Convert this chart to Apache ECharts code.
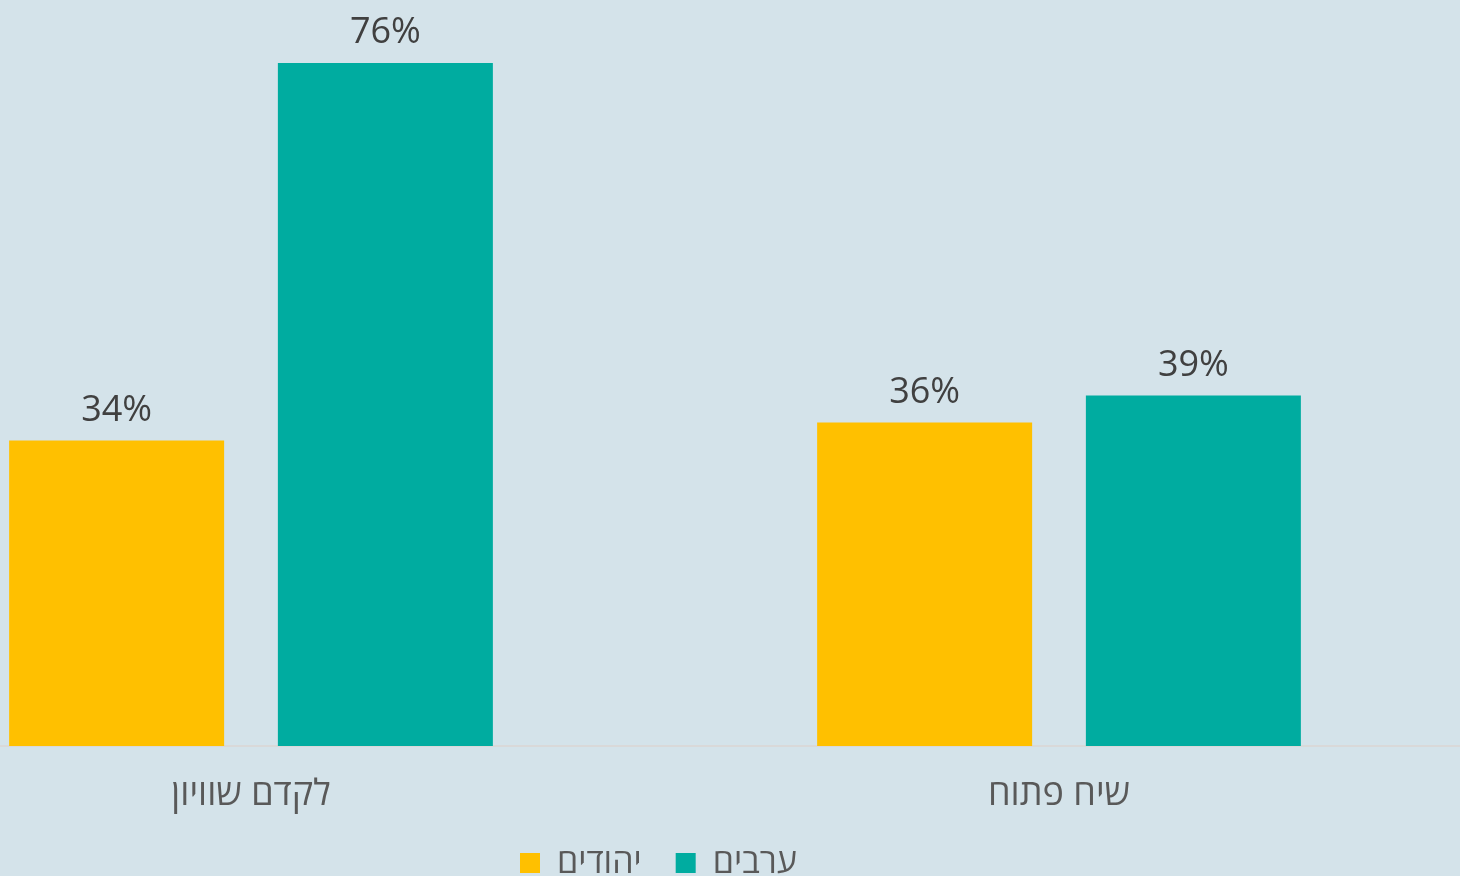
<!DOCTYPE html>
<html>
<head>
<meta charset="utf-8">
<title>chart</title>
<script src="https://cdn.jsdelivr.net/npm/echarts@6/dist/echarts.min.js"></script>
<style>
  html, body { margin: 0; padding: 0; background: #d4e3ea; overflow: hidden; }
  /* the plot is wider than the window: the outer categories are cut at both edges */
  #chart { position: absolute; left: -153px; top: 0; width: 1616px; height: 876px; }
</style>
</head>
<body>
<div id="chart"></div>
<script>
const categories = ['לקדם שוויון', 'שיח פתוח']
const seriesNames = ['יהודים', 'ערבים']
const jewsValues = [34, 36]
const arabsValues = [76, 39]

const font = '"Open Sans", "DejaVu Sans", sans-serif'

const chart = echarts.init(document.getElementById('chart'))

const labelStyle = {
  show: true,
  position: 'top',
  distance: 12,
  formatter: '{c}%',
  color: '#404040',
  fontSize: 36,
  fontFamily: font,
}

const option = {
  backgroundColor: '#d4e3ea',
  animation: false,
  legend: {
    data: seriesNames,
    left: 668,
    top: 841,
    itemWidth: 20,
    itemHeight: 20,
    itemGap: 34,
    icon: 'rect',
    textStyle: {
      color: '#595959',
      fontSize: 34,
      fontFamily: font,
      padding: [0, 0, 0, 12],
    },
  },
  grid: {
    left: 0,
    right: 0,
    top: 27,
    bottom: 130,
  },
  xAxis: {
    type: 'category',
    data: categories,
    axisTick: { show: false },
    axisLine: { lineStyle: { color: '#d9d9d9', width: 2 } },
    axisLabel: {
      color: '#595959',
      fontSize: 36,
      fontFamily: font,
      margin: 31,
    },
  },
  yAxis: {
    type: 'value',
    min: 0,
    max: 80,
    show: false,
    splitLine: { show: false },
  },
  series: [
    {
      name: seriesNames[0],
      type: 'bar',
      data: jewsValues,
      barWidth: 215,
      barGap: '25%',
      itemStyle: { color: '#ffc000' },
      label: labelStyle,
    },
    {
      name: seriesNames[1],
      type: 'bar',
      data: arabsValues,
      barWidth: 215,
      barGap: '25%',
      itemStyle: { color: '#00aca0' },
      label: labelStyle,
    },
  ],
}

chart.setOption(option)
</script>
</body>
</html>
